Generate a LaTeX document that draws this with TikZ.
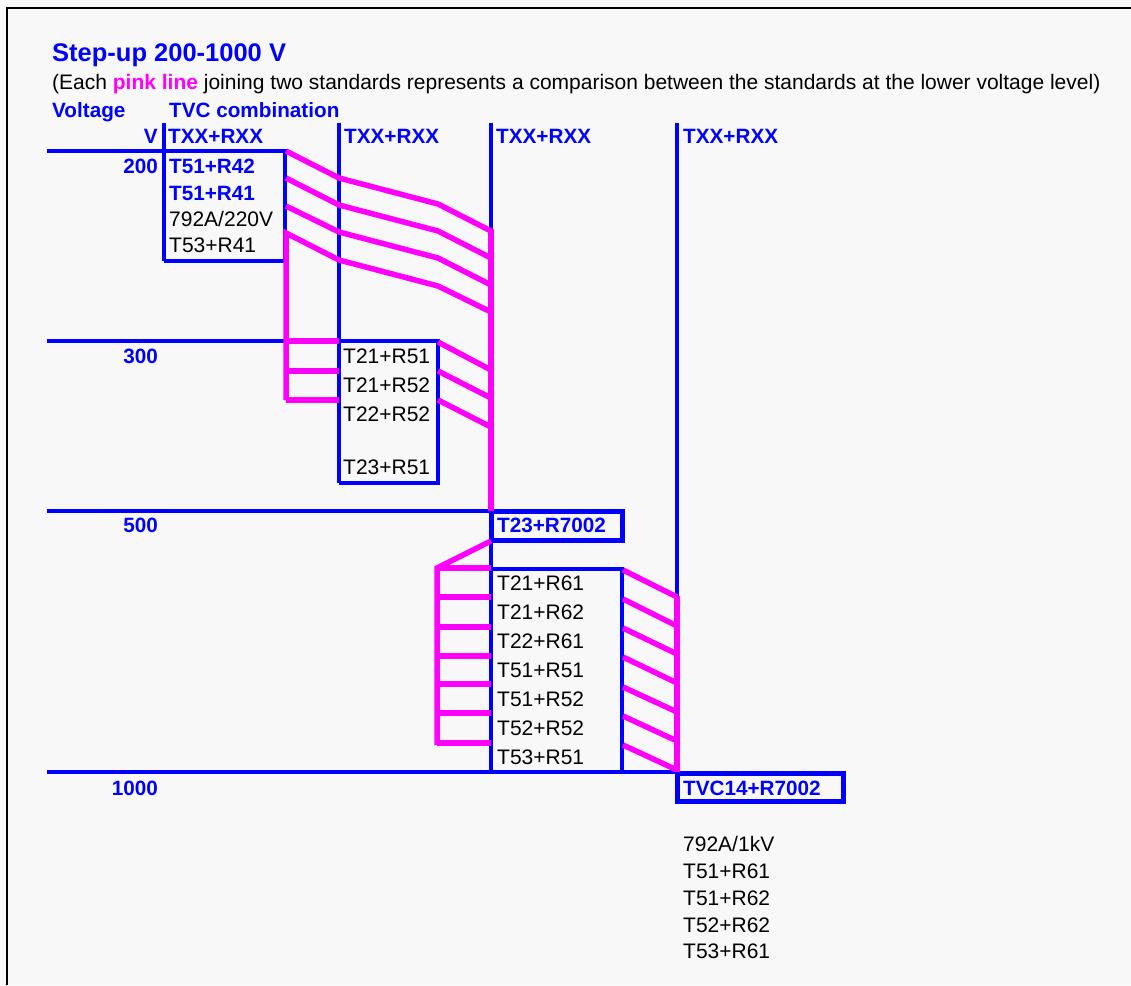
\documentclass[tikz,border=0pt]{standalone}
\usepackage{fontspec}
\setmainfont{Liberation Sans}
\usetikzlibrary{positioning}
\definecolor{su-blue}{HTML}{0000FF}
\definecolor{su-pink}{HTML}{FF00FF}
\definecolor{su-paper}{HTML}{F8F8F8}
\definecolor{su-text}{HTML}{000000}

\begin{document}
\begin{tikzpicture}[
    x=1pt, y=-1pt,
    font=\fontsize{21}{25}\selectfont
  ]

  % Global Style Definitions
  \tikzset{
    level/.style={draw=su-blue, line width=3.5pt},
    refbox/.style={draw=su-blue, line width=5pt},
    link/.style={draw=su-pink, line width=5.5pt},
    head/.style={text=su-blue, font=\fontsize{20.7}{25}\selectfont\bfseries, inner sep=0pt, anchor=base west},
    volt/.style={head, anchor=base east},
    entry/.style={text=su-text, inner sep=0pt, anchor=base west}
  }

  % Paper and frame
  \useasboundingbox (0,0) rectangle (1131,985);
  \fill[su-paper] (0,0) rectangle (1131,985);
  \draw[black, line width=2pt] (6.5,985) -- (6.5,8) -- (1131,8);

  % Title block
  \node (title) [head, font=\fontsize{25.5}{30}\selectfont\bfseries] at (52,61) {Step-up 200-1000 V};
  \node (note) [entry] at (52,89) {(Each \textcolor{su-pink}{\bfseries pink line} joining two standards represents a comparison between the standards at the lower voltage level)};
  \node (hvolt) [head] at (52,117) {Voltage};
  \node (hcomb) [head] at (169,117) {TVC combination};
  \node (hv) [volt] at (158,143) {V};
  \node (c1) [head] at (168,143) {TXX+RXX};
  \node (c2) [head] at (344,143) {TXX+RXX};
  \node (c3) [head] at (496,143) {TXX+RXX};
  \node (c4) [head] at (683,143) {TXX+RXX};

  % Columns
  \draw[level] (164,123) -- (164,261);
  \draw[level] (339,123) -- (339,483);
  \draw[level] (491,123) -- (491,772);
  \draw[level] (677,123) -- (677,773);

  % Voltage levels and boxes
  \draw[level] (47,151) -- (285,151) -- (285,261) -- (164,261);
  \draw[level] (47,341) -- (438,341) -- (438,483) -- (339,483);
  \draw[level] (47,511) -- (491,511);
  \draw[level] (491,569) -- (622,569) -- (622,772);
  \draw[level] (47,772) -- (677,772);
  \draw[refbox] (491,511) rectangle (622,540);
  \draw[refbox] (677,773) rectangle (843,801);

  % 200 V to 500 V comparisons
  \draw[link] (286,151) -- (339,178) -- (438,204) -- (491,231);
  \draw[link] (286,178) -- (339,205) -- (438,231) -- (491,258);
  \draw[link] (286,206) -- (339,232) -- (438,258) -- (491,285);
  \draw[link] (286,400) -- (286,233) -- (339,260) -- (438,286) -- (491,312);
  \draw[link] (286,341) -- (339,341);
  \draw[link] (286,371) -- (339,371);
  \draw[link] (286,400) -- (339,400);
  \draw[link] (491,229) -- (491,511);

  % 300 V to 500 V comparisons
  \draw[link] (438,342) -- (491,370);
  \draw[link] (438,371) -- (491,398);
  \draw[link] (438,400) -- (491,427);

  % 500 V to 1000 V comparisons
  \draw[link] (491,541) -- (437,568) -- (437,745);
  \draw[link] (437,568) -- (491,568);
  \draw[link] (437,597) -- (491,597);
  \draw[link] (437,627) -- (491,627);
  \draw[link] (437,656) -- (491,656);
  \draw[link] (437,684) -- (491,684);
  \draw[link] (437,713) -- (491,713);
  \draw[link] (437,743) -- (491,743);
  \draw[link] (623,570) -- (677,597);
  \draw[link] (623,599) -- (677,626);
  \draw[link] (623,628) -- (677,654);
  \draw[link] (623,657) -- (677,683);
  \draw[link] (623,687) -- (677,712);
  \draw[link] (623,716) -- (677,741);
  \draw[link] (623,745) -- (677,770);
  \draw[link] (677,596) -- (677,772);

  % Voltage labels
  \node (v200) [volt] at (158,173) {200};
  \node (v300) [volt] at (158,363) {300};
  \node (v500) [volt] at (158,532) {500};
  \node (v1000) [volt] at (158,795) {1000};

  % 200 V standards
  \node (s1) [head] at (169,173) {T51+R42};
  \node (s2) [head] at (169,200) {T51+R41};
  \node (s3) [entry] at (169,226) {792A/220V};
  \node (s4) [entry] at (169,252) {T53+R41};

  % 300 V standards
  \node (t1) [entry] at (343,363) {T21+R51};
  \node (t2) [entry] at (343,392) {T21+R52};
  \node (t3) [entry] at (343,421) {T22+R52};
  \node (t4) [entry] at (343,474) {T23+R51};

  % 500 V reference and 1000 V standards
  \node (r500) [head] at (497,532) {T23+R7002};
  \node (k1) [entry] at (497,590) {T21+R61};
  \node (k2) [entry] at (497,619) {T21+R62};
  \node (k3) [entry] at (497,648) {T22+R61};
  \node (k4) [entry] at (497,677) {T51+R51};
  \node (k5) [entry] at (497,706) {T51+R52};
  \node (k6) [entry] at (497,735) {T52+R52};
  \node (k7) [entry] at (497,764) {T53+R51};

  % 1000 V reference and the others
  \node (r1000) [head] at (683,795) {TVC14+R7002};
  \node (m1) [entry] at (683,851) {792A/1kV};
  \node (m2) [entry] at (683,878) {T51+R61};
  \node (m3) [entry] at (683,905) {T51+R62};
  \node (m4) [entry] at (683,932) {T52+R62};
  \node (m5) [entry] at (683,958) {T53+R61};

\end{tikzpicture}
\end{document}
